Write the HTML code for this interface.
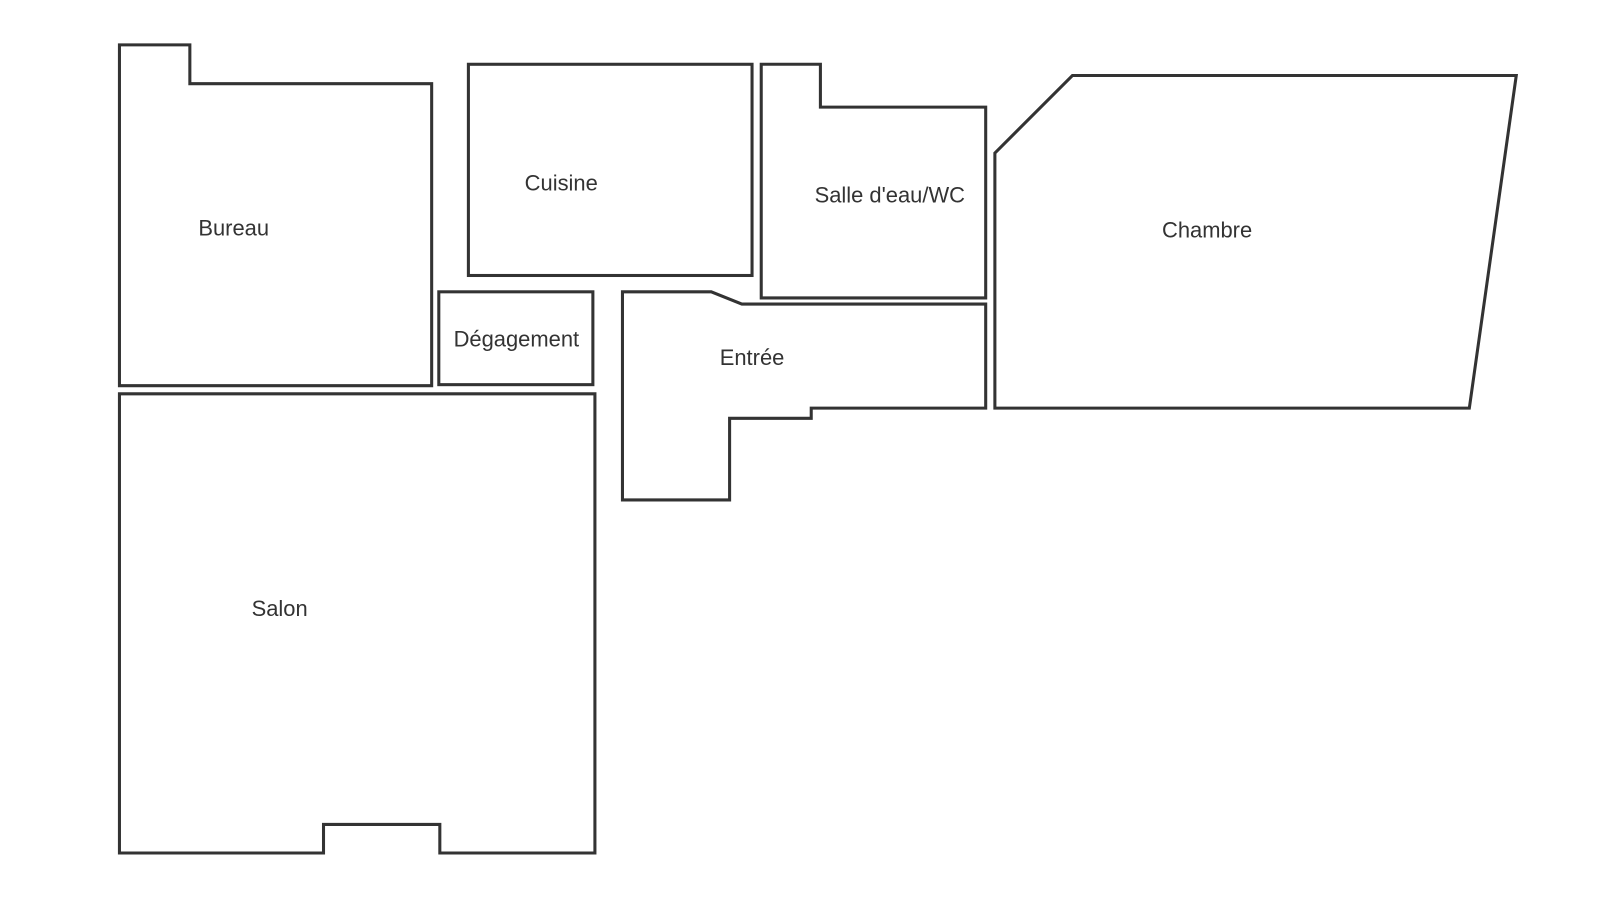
<!DOCTYPE html>
<html><head><meta charset="utf-8"><style>
html,body{margin:0;padding:0;background:#fff;}
svg{display:block;}
text{font-family:"Liberation Sans",Arial,sans-serif;font-size:21.5px;fill:#333;text-anchor:middle;dominant-baseline:middle;}
</style></head><body>
<svg width="1600" height="904" viewBox="0 0 1568 886" xmlns="http://www.w3.org/2000/svg">
<g fill="none" stroke="#333" stroke-width="3" stroke-linejoin="miter">
<polygon points="117,44 186,44 186,82 423,82 423,378 117,378"/>
<rect x="459" y="63" width="278" height="207"/>
<polygon points="746,63 804,63 804,105 966,105 966,292 746,292"/>
<polygon points="975,150 1051,74 1486,74 1440,400 975,400"/>
<rect x="430" y="286" width="151" height="91"/>
<polygon points="610,286 697,286 727,298 966,298 966,400 795,400 795,410 715,410 715,490 610,490"/>
<polygon points="117,386 583,386 583,836 431,836 431,808 317,808 317,836 117,836"/>
</g>
<text x="229" y="225">Bureau</text>
<text x="550" y="181">Cuisine</text>
<text x="872" y="193">Salle d'eau/WC</text>
<text x="1183" y="227">Chambre</text>
<text x="506" y="334">Dégagement</text>
<text x="737" y="352">Entrée</text>
<text x="274" y="598">Salon</text>
</svg>
</body></html>
